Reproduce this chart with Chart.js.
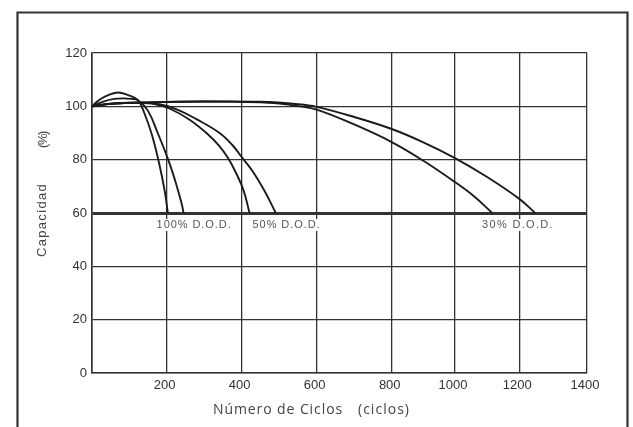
<!DOCTYPE html>
<html>
<head>
<meta charset="utf-8">
<script src="https://cdn.jsdelivr.net/npm/chart.js@4/dist/chart.umd.min.js"></script>
<style>
  html, body { margin: 0; padding: 0; background: #fff; }
  canvas { display: block; }
</style>
</head>
<body>
<canvas id="c" width="633" height="427"></canvas>
<script>
// ---- data ----
const xTicks = [0, 200, 400, 600, 800, 1000, 1200, 1400];
const yTicks = [0, 20, 40, 60, 80, 100, 120];
const xTitle = 'Número de Ciclos';
const xUnit = '(ciclos)';
const yTitle = 'Capacidad';
const yUnit = '(%)';
const dodLabels = ['100% D.O.D.', '50% D.O.D.', '30% D.O.D.'];
const dodLabelCycles = [173, 429, 1084];

const dod100aCycles = [0, 20, 45, 70, 95, 123, 140, 160, 180, 195, 203];
const dod100aCap    = [100, 102.5, 104.3, 105.2, 104.3, 102.3, 97.5, 89.5, 78.5, 68, 60];
const dod100bCycles = [0, 30, 60, 85, 105, 123, 150, 176, 204, 225, 240, 245];
const dod100bCap    = [100, 101.8, 102.8, 103, 102.8, 102.3, 98.3, 90, 80, 71, 63.5, 60];
const dod50aCycles  = [0, 60, 120, 170, 210, 261, 306, 340, 364, 385, 405, 421];
const dod50aCap     = [100, 101, 101.3, 100.8, 99, 95, 90, 85.2, 80.5, 75, 68.5, 60];
const dod50bCycles  = [0, 60, 120, 180, 230, 279, 341, 375, 400, 430, 460, 491];
const dod50bCap     = [100, 101, 101.3, 100.8, 98.7, 95.2, 90, 85.5, 81, 75.5, 68.5, 60];
const dod30aCycles  = [0, 50, 150, 300, 450, 500, 550, 600, 700, 800, 900, 1000, 1060, 1116];
const dod30aCap     = [100, 101, 101.5, 101.8, 101.5, 101, 100.1, 98.8, 93.2, 86.6, 79.6, 71.6, 66.2, 60];
const dod30bCycles  = [0, 50, 150, 300, 450, 550, 600, 700, 800, 900, 1000, 1100, 1200, 1247];
const dod30bCap     = [100, 101, 101.5, 101.8, 101.7, 100.8, 99.8, 96, 91.5, 86.5, 80.6, 73.5, 65.3, 60];

const seriesCycles = [dod100aCycles, dod100bCycles, dod50aCycles, dod50bCycles, dod30aCycles, dod30bCycles];
const seriesCap    = [dod100aCap, dod100bCap, dod50aCap, dod50bCap, dod30aCap, dod30bCap];
const seriesNames  = ['100% a', '100% b', '50% a', '50% b', '30% a', '30% b'];

// ---- piecewise x scale (the printed grid is not evenly spaced) ----
const knotFrac = [0, 0.1509, 0.3024, 0.4539, 0.6055, 0.7333, 0.8632, 1];
function valToFrac(v) {
  for (let i = 1; i < xTicks.length; i++) {
    if (v <= xTicks[i] || i === xTicks.length - 1) {
      const t = (v - xTicks[i - 1]) / (xTicks[i] - xTicks[i - 1]);
      return knotFrac[i - 1] + t * (knotFrac[i] - knotFrac[i - 1]);
    }
  }
}
function fracToVal(f) {
  for (let i = 1; i < knotFrac.length; i++) {
    if (f <= knotFrac[i] || i === knotFrac.length - 1) {
      const t = (f - knotFrac[i - 1]) / (knotFrac[i] - knotFrac[i - 1]);
      return xTicks[i - 1] + t * (xTicks[i] - xTicks[i - 1]);
    }
  }
}
class PiecewiseScale extends Chart.LinearScale {
  getPixelForValue(value) { return this.getPixelForDecimal(valToFrac(value)); }
  getValueForPixel(pixel) { return fracToVal(this.getDecimalForPixel(pixel)); }
}
PiecewiseScale.id = 'piecewise';
PiecewiseScale.defaults = Chart.LinearScale.defaults;
Chart.register(PiecewiseScale);

const datasets = seriesNames.map((name, i) => ({
  label: name,
  data: seriesCycles[i].map((x, j) => ({ x: x, y: seriesCap[i][j] })),
  borderColor: '#1b1b1b',
  borderWidth: 1.9,
  pointRadius: 0,
  fill: false,
  tension: 0.4
}));

function fitText(c, text, x, y, target) {
  if ('letterSpacing' in c) c.letterSpacing = '0px';
  const w = c.measureText(text).width;
  if ('letterSpacing' in c) {
    c.letterSpacing = ((target - w) / text.length).toFixed(2) + 'px';
  }
  c.fillText(text, x, y);
  if ('letterSpacing' in c) c.letterSpacing = '0px';
}

const decorPlugin = {
  id: 'decor',
  beforeDraw(chart) {
    const c = chart.ctx;
    c.save();
    c.fillStyle = '#fff';
    c.fillRect(0, 0, chart.width, chart.height);
    c.restore();
  },
  afterDraw(chart) {
    const c = chart.ctx;
    const xs = chart.scales.x, ys = chart.scales.y;
    c.save();
    // outer frame
    c.strokeStyle = '#333';
    c.lineWidth = 2.2;
    c.beginPath();
    c.moveTo(17.5, 440);
    c.lineTo(17.5, 12.5);
    c.lineTo(627.5, 12.5);
    c.lineTo(627.5, 440);
    c.stroke();

    // D.O.D. labels under the 60 % line
    c.font = '11px "Liberation Sans", Arial, sans-serif';
    c.textBaseline = 'middle';
    c.textAlign = 'left';
    const ly = ys.getPixelForValue(60) + 12;
    const widths = [75, 68, 72];
    dodLabels.forEach((t, i) => {
      const lx = xs.getPixelForValue(dodLabelCycles[i]);
      c.fillStyle = '#fff';
      c.fillRect(lx - 1, ly - 6, widths[i] + 2, 12);
      c.fillStyle = '#555';
      fitText(c, t, lx, ly, widths[i]);
    });

    // x title
    c.fillStyle = '#444';
    c.font = '14px "Open Sans", "Noto Sans", sans-serif';
    c.textAlign = 'left';
    fitText(c, xTitle, 213, 410, 130);
    fitText(c, xUnit, 358, 410, 52);

    // y title (rotated)
    c.font = '13px "Liberation Sans", Arial, sans-serif';
    c.translate(42, 220);
    c.rotate(-Math.PI / 2);
    c.textAlign = 'left';
    fitText(c, yTitle, -37, 0, 74);
    fitText(c, yUnit, 72, 1, 16);
    c.restore();
  }
};

new Chart(document.getElementById('c').getContext('2d'), {
  type: 'line',
  data: { datasets: datasets },
  options: {
    responsive: false,
    animation: false,
    events: [],
    layout: { padding: { top: 53, right: 46, bottom: 0, left: 0 } },
    plugins: { legend: { display: false }, tooltip: { enabled: false } },
    scales: {
      x: {
        type: 'piecewise',
        min: 0, max: 1400,
        afterBuildTicks: s => { s.ticks = xTicks.map(v => ({ value: v })); },
        afterFit: s => { s.height = 54; },
        ticks: {
          autoSkip: false, maxRotation: 0, padding: 5, labelOffset: -2,
          color: '#333',
          font: { family: '"Liberation Sans", Arial, sans-serif', size: 13 },
          callback: v => (v === 0 ? '' : String(v))
        },
        grid: { color: '#333', lineWidth: 1.3, drawTicks: false },
        border: { color: '#333', width: 1.6 }
      },
      y: {
        type: 'linear',
        min: 0, max: 120,
        afterBuildTicks: s => { s.ticks = yTicks.map(v => ({ value: v })); },
        afterFit: s => { s.width = 92; },
        ticks: {
          padding: 5,
          color: '#333',
          font: { family: '"Liberation Sans", Arial, sans-serif', size: 13 },
          callback: v => String(v)
        },
        grid: {
          color: '#333',
          lineWidth: c => (c.tick && c.tick.value === 60 ? 3 : 1.3),
          drawTicks: false
        },
        border: { color: '#333', width: 1.6 }
      }
    }
  },
  plugins: [decorPlugin]
});
</script>
</body>
</html>
